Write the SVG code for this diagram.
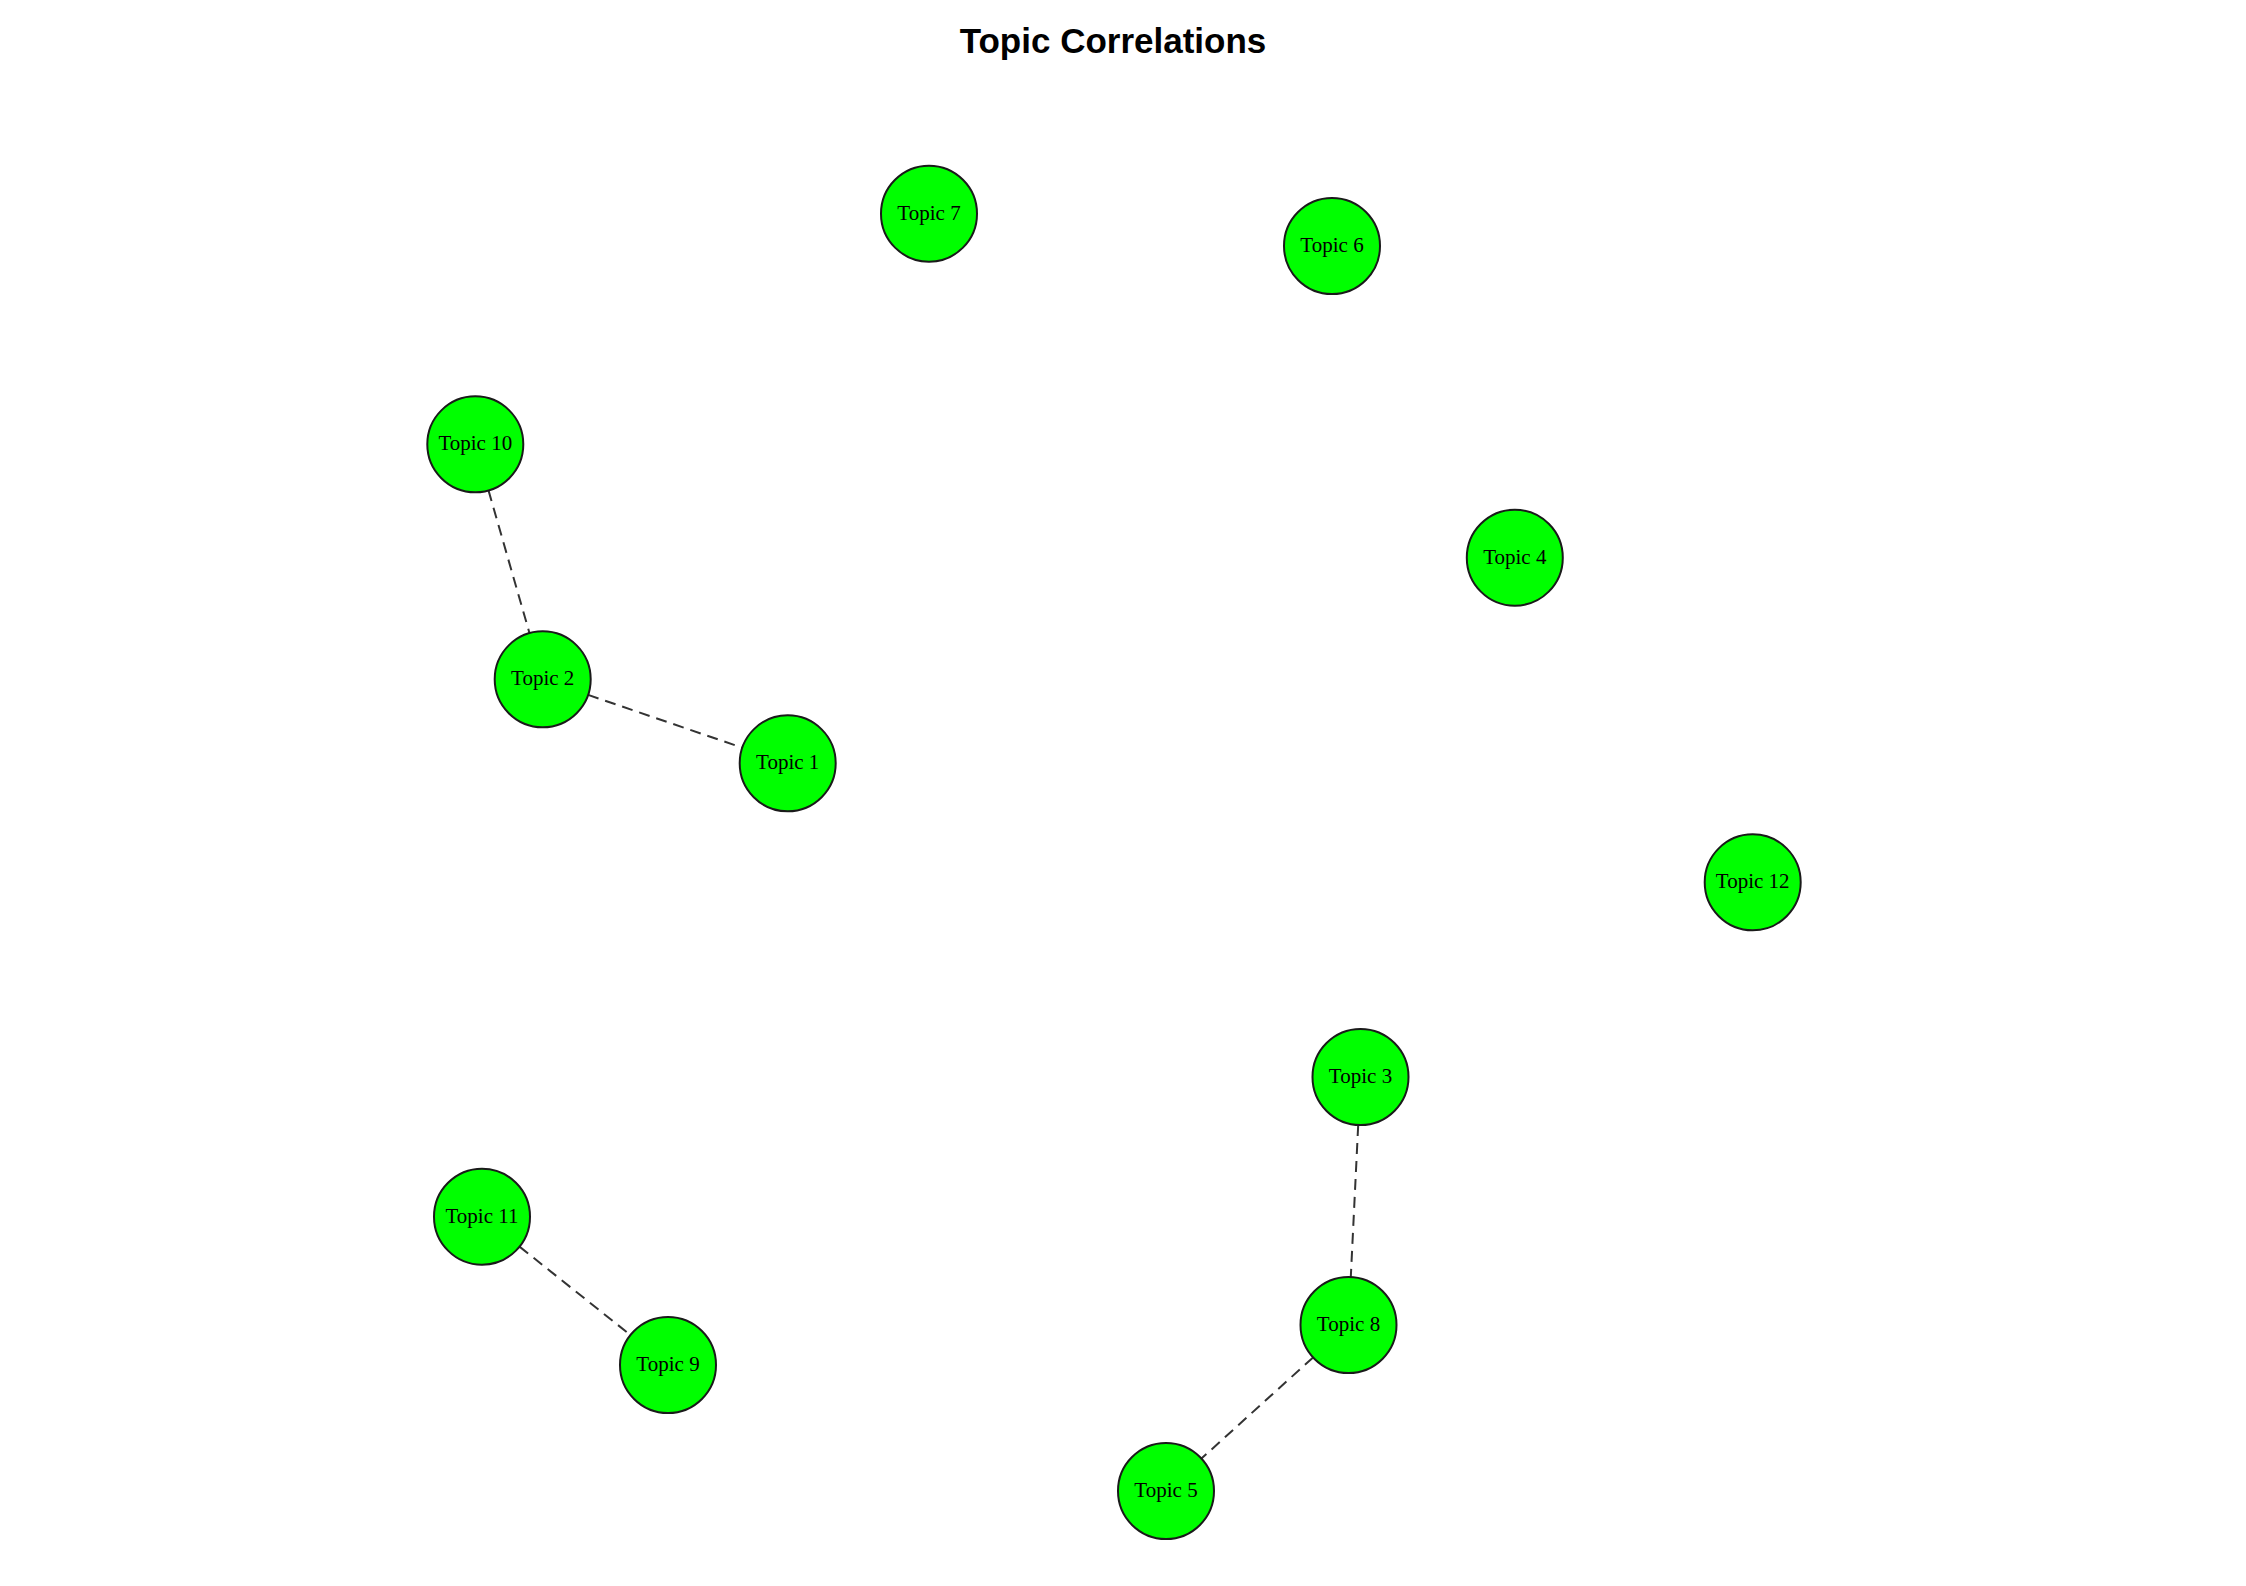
<svg xmlns="http://www.w3.org/2000/svg" width="2246" height="1586" viewBox="0 0 2246 1586">
<style>
.title{font-family:"Liberation Sans",Arial,sans-serif;font-weight:bold;font-size:35px;fill:#000;text-anchor:middle}
.node circle{fill:#00ff00;stroke:#1a1a1a;stroke-width:2}
.node text{font-family:"Liberation Serif","Times New Roman",serif;font-size:21px;fill:#000;text-anchor:middle}
.edge{stroke:#333;stroke-width:2;stroke-dasharray:11 7;fill:none}
</style>
<rect width="2246" height="1586" fill="#fff"/>
<text class="title" x="1113" y="53">Topic Correlations</text>
<g id="connectors">
<line class="edge" x1="488.5" y1="490.4" x2="529.5" y2="633.2"/>
<line class="edge" x1="588.1" y1="694.9" x2="742.3" y2="747.7"/>
<line class="edge" x1="519.5" y1="1246.6" x2="630.5" y2="1335.1"/>
<line class="edge" x1="1358.2" y1="1125" x2="1350.8" y2="1277"/>
<line class="edge" x1="1313.1" y1="1357.4" x2="1201.4" y2="1458.6"/>
</g>
<g id="topic7" class="node"><circle cx="929" cy="213.7" r="48"/><text x="929" y="219.5">Topic 7</text></g>
<g id="topic6" class="node"><circle cx="1332" cy="246" r="48"/><text x="1332" y="251.8">Topic 6</text></g>
<g id="topic10" class="node"><circle cx="475.3" cy="444.3" r="48"/><text x="475.3" y="450.1">Topic 10</text></g>
<g id="topic4" class="node"><circle cx="1514.8" cy="557.7" r="48"/><text x="1514.8" y="563.5">Topic 4</text></g>
<g id="topic2" class="node"><circle cx="542.7" cy="679.3" r="48"/><text x="542.7" y="685.1">Topic 2</text></g>
<g id="topic1" class="node"><circle cx="787.7" cy="763.3" r="48"/><text x="787.7" y="769.1">Topic 1</text></g>
<g id="topic12" class="node"><circle cx="1752.7" cy="882.3" r="48"/><text x="1752.7" y="888.1">Topic 12</text></g>
<g id="topic3" class="node"><circle cx="1360.5" cy="1077" r="48"/><text x="1360.5" y="1082.8">Topic 3</text></g>
<g id="topic11" class="node"><circle cx="482" cy="1216.7" r="48"/><text x="482" y="1222.5">Topic 11</text></g>
<g id="topic8" class="node"><circle cx="1348.5" cy="1325" r="48"/><text x="1348.5" y="1330.8">Topic 8</text></g>
<g id="topic9" class="node"><circle cx="668" cy="1365" r="48"/><text x="668" y="1370.8">Topic 9</text></g>
<g id="topic5" class="node"><circle cx="1166" cy="1491" r="48"/><text x="1166" y="1496.8">Topic 5</text></g>
</svg>
